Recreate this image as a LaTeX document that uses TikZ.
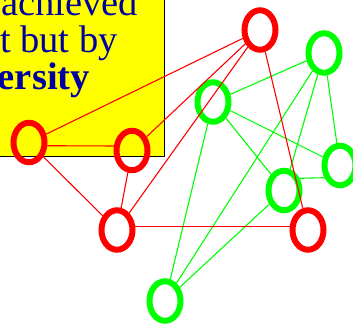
\documentclass[tikz,border=0pt]{standalone}
\usepackage{fontspec}
\setmainfont{Liberation Serif}
\usetikzlibrary{shapes.geometric}
\definecolor{navytext}{RGB}{0,0,160}
\definecolor{pureyellow}{RGB}{255,255,0}
\definecolor{purered}{RGB}{255,0,0}
\definecolor{puregreen}{RGB}{0,255,0}
\begin{document}
\begin{tikzpicture}[x=1pt,y=-1pt,
  ring/.style={ellipse, draw, line width=6pt, inner sep=0pt, minimum width=31pt, minimum height=39.5pt},
  rring/.style={ring, draw=purered},
  gring/.style={ring, draw=puregreen},
  redge/.style={draw=purered, line width=1.1pt},
  gedge/.style={draw=puregreen, line width=1.1pt},
  txt/.style={anchor=base east, inner sep=0pt, text=navytext, font=\fontsize{38.5}{40}\selectfont},
  boxstyle/.style={fill=pureyellow, draw=black, line width=1pt}]
\useasboundingbox (0,0) rectangle (353,324);
% yellow text box
\path[boxstyle] (-10,-10) rectangle (164.5,156.5);
\node[txt] (l1) at (138,15) {achieved};
\node[txt] (l2) at (118,52) {t but by};
\node[txt] (l3) at (90,89) {\bfseries ersity};
% green graph
\node[gring] (G1) at (324,53) {};
\node[gring] (G2) at (213,102) {};
\node[gring] (G3) at (340,165.5) {};
\node[gring] (G4) at (284,190.5) {};
\node[gring] (G5) at (165,301) {};
\draw[gedge] (G1) -- (G2);
\draw[gedge] (G1) -- (G3);
\draw[gedge] (G1) -- (G4);
\draw[gedge] (G1) -- (G5);
\draw[gedge] (G2) -- (G3);
\draw[gedge] (G2) -- (G4);
\draw[gedge] (G2) -- (G5);
\draw[gedge] (G4.38) -- (G3.218);
\draw[gedge] (G4) -- (G5);
% red graph
\node[rring] (R1) at (260,30) {};
\node[rring] (R2) at (29,142.5) {};
\node[rring] (R3) at (132,150.5) {};
\node[rring] (R4) at (117,230) {};
\node[rring] (R5) at (308,230) {};
\draw[redge] (R1) -- (R2);
\draw[redge] (R1) -- (R3);
\draw[redge] (R1) -- (R4);
\draw[redge] (R1) -- (R5);
\draw[redge] (R2.-10.7) -- (R3.166);
\draw[redge] (R2) -- (R4);
\draw[redge] (R3) -- (R4);
\draw[redge] (R4.10) -- (R5.170);
\end{tikzpicture}
\end{document}
